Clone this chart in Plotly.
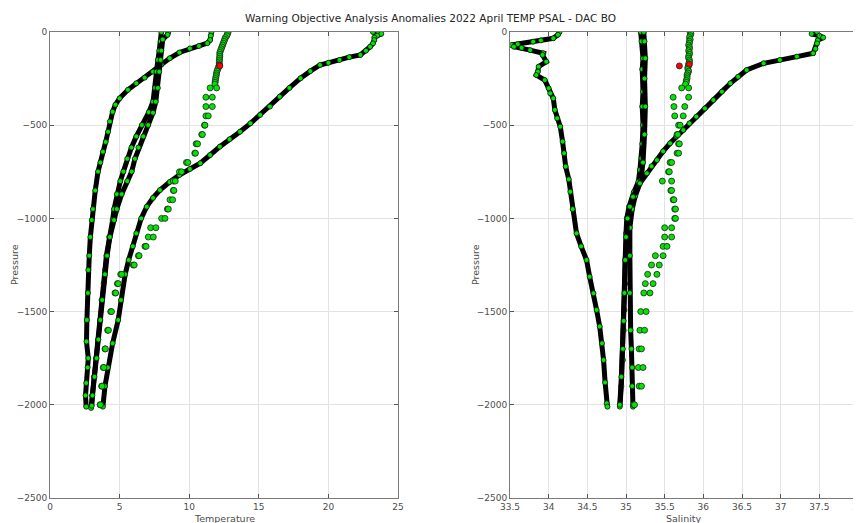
import plotly.graph_objects as go

# ---------------- DATA ----------------
title_text = "Warning Objective Analysis Anomalies 2022 April TEMP PSAL - DAC BO"
temp_ticks = [0, 5, 10, 15, 20, 25]
sal_ticks = [33.5, 34, 34.5, 35, 35.5, 36, 36.5, 37, 37.5, 38]
pres_ticks = [-2500, -2000, -1500, -1000, -500, 0]

# Dense temperature profiles
ta_p = [0, -50, -100, -150, -213, -300, -374, -430, -499, -560, -620, -680, -749, -800, -870, -950, -1009, -1100, -1200, -1277, -1350, -1438, -1545, -1650, -1750, -1850, -1950, -2017]
ta_t = [8.0, 7.95, 7.85, 7.75, 7.65, 7.55, 7.4, 7.1, 6.6, 6.2, 5.85, 5.55, 5.27, 5.05, 4.8, 4.6, 4.5, 4.25, 4.05, 3.95, 3.85, 3.7, 3.6, 3.45, 3.3, 3.15, 3.02, 2.95]

tb_p = [0, -15, -40, -100, -150, -213, -300, -374, -433, -499, -560, -620, -680, -749, -800, -870, -950, -1009, -1100, -1200, -1300, -1438, -1545, -1650, -1750, -1850, -1950, -2005]
tb_t = [8.5, 8.45, 8.1, 8.0, 7.95, 7.85, 7.75, 7.6, 7.4, 7.06, 6.7, 6.35, 6.1, 5.87, 5.55, 5.15, 4.8, 4.6, 4.3, 4.1, 3.95, 3.75, 3.62, 3.48, 3.35, 3.2, 3.05, 3.0]

tc_p = [0, -20, -43, -60, -75, -88, -110, -141, -175, -213, -245, -275, -310, -356, -390, -428, -480, -535, -590, -642, -700, -749, -850, -950, -1009, -1100, -1200, -1277, -1400, -1545, -1660, -1750, -1800, -1883, -1950, -2010]
tc_t = [11.6, 11.55, 11.5, 11.3, 10.7, 10.05, 9.3, 8.6, 8.0, 7.4, 6.8, 6.2, 5.6, 5.0, 4.7, 4.5, 4.3, 4.17, 4.0, 3.8, 3.62, 3.45, 3.25, 3.08, 3.0, 2.9, 2.82, 2.75, 2.72, 2.65, 2.62, 2.75, 2.7, 2.6, 2.55, 2.6]

td_p = [0, -5, -10, -20, -30, -43, -61, -79, -100, -123, -135, -150, -165, -177, -210, -248, -300, -347, -400, -445, -490, -535, -575, -615, -660, -704, -735, -767, -805, -848, -890, -937, -1000, -1080, -1150, -1223, -1300, -1438, -1545, -1670, -1800, -1900, -2010]
td_t = [23.2, 23.6, 23.8, 23.5, 23.3, 23.3, 23.2, 23.0, 22.7, 22.3, 21.5, 20.8, 20.0, 19.4, 18.7, 18.0, 17.2, 16.5, 15.8, 15.1, 14.4, 13.65, 12.9, 12.2, 11.5, 10.8, 10.05, 9.3, 8.6, 7.9, 7.4, 6.95, 6.55, 6.2, 5.95, 5.65, 5.4, 5.1, 4.9, 4.5, 4.15, 3.95, 3.8]

# Dense salinity profiles
sa_p = [0, -15, -34, -45, -52, -65, -70, -79, -85, -97, -114, -123, -159, -186, -213, -231, -258, -302, -329, -356, -418, -463, -508, -588, -650, -722, -790, -857, -950, -1080, -1150, -1223, -1313, -1402, -1491, -1580, -1670, -1760, -1880, -1992, -2010]
sa_s = [34.14, 34.12, 34.06, 33.9, 33.8, 33.6, 33.52, 33.55, 33.65, 33.76, 33.93, 33.92, 33.97, 33.87, 33.86, 33.84, 33.95, 34.0, 34.02, 34.06, 34.08, 34.11, 34.15, 34.18, 34.2, 34.22, 34.26, 34.28, 34.31, 34.36, 34.42, 34.49, 34.53, 34.58, 34.62, 34.66, 34.69, 34.71, 34.73, 34.75, 34.76]

sb1_p = [0, -50, -141, -200, -320, -400, -499, -600, -678, -740, -803, -860, -937, -1000, -1080, -1223, -1350, -1491, -1600, -1760, -1900, -2010]
sb1_s = [35.19, 35.2, 35.22, 35.21, 35.22, 35.21, 35.22, 35.21, 35.2, 35.18, 35.16, 35.1, 35.04, 35.01, 35.0, 34.99, 34.99, 34.98, 34.97, 34.96, 34.94, 34.92]

sb2_p = [0, -50, -141, -250, -400, -550, -700, -800, -880, -950, -1050, -1200, -1400, -1600, -1700, -1800, -1900, -2010]
sb2_s = [35.23, 35.24, 35.25, 35.24, 35.25, 35.24, 35.22, 35.19, 35.12, 35.08, 35.05, 35.05, 35.05, 35.06, 35.07, 35.08, 35.08, 35.09]

sc_p = [0, -10, -20, -30, -45, -61, -90, -114, -132, -150, -168, -204, -240, -275, -320, -365, -410, -454, -490, -526, -560, -597, -640, -687, -720, -758, -812, -884, -937, -1000, -1100, -1223, -1400, -1550, -1700, -1850, -2000]
sc_s = [37.47, 37.4, 37.5, 37.55, 37.48, 37.47, 37.45, 37.42, 37.21, 36.99, 36.78, 36.56, 36.45, 36.35, 36.24, 36.13, 36.02, 35.91, 35.82, 35.74, 35.65, 35.57, 35.48, 35.4, 35.33, 35.27, 35.18, 35.09, 35.05, 35.02, 35.0, 34.99, 34.98, 34.97, 34.96, 34.94, 34.92]

# Sparse (anomalous) profile: dense top part then two branches at standard levels
e_top_p = [0, -10, -20, -30, -40, -50, -60, -70, -80, -90, -100, -110, -120, -130, -140, -150, -160, -170, -180, -190, -200, -210, -220, -230, -240, -250, -260, -270, -280]
e_top_t = [12.8, 12.75, 12.7, 12.6, 12.55, 12.5, 12.45, 12.4, 12.35, 12.3, 12.25, 12.2, 12.2, 12.2, 12.18, 12.17, 12.16, 12.16, 12.15, 12.1, 12.05, 12.0, 11.97, 11.95, 11.92, 11.9, 11.88, 11.86, 11.85]
e_top_s = [35.83, 35.84, 35.83, 35.82, 35.83, 35.82, 35.82, 35.81, 35.82, 35.82, 35.81, 35.82, 35.82, 35.81, 35.81, 35.82, 35.82, 35.81, 35.81, 35.8, 35.8, 35.81, 35.8, 35.79, 35.79, 35.79, 35.78, 35.78, 35.77]

e_lev_p = [-300, -350, -400, -450, -500, -550, -600, -650, -700, -750, -800, -850, -900, -950, -1000, -1050, -1100, -1150, -1200, -1250, -1300, -1350, -1400, -1500, -1600, -1700, -1800, -1900, -2000]
e1_t = [11.5, 11.2, 11.2, 11.2, 11.1, 10.9, 10.5, 10.4, 9.8, 9.3, 8.86, 8.86, 8.62, 8.43, 8.02, 7.23, 7.06, 6.82, 6.35, 5.98, 5.08, 4.84, 4.67, 4.36, 4.14, 3.95, 3.83, 3.71, 3.6]
e2_t = [11.97, 11.66, 11.66, 11.37, 11.13, 10.95, 10.6, 10.45, 9.9, 9.45, 9.0, 8.9, 8.81, 8.5, 8.26, 7.61, 7.42, 6.9, 6.4, 6.05, 5.15, 4.9, 4.72, 4.42, 4.2, 3.98, 3.86, 3.74, 3.62]
e1_s = [35.72, 35.61, 35.62, 35.63, 35.68, 35.66, 35.68, 35.66, 35.57, 35.55, 35.47, 35.58, 35.61, 35.63, 35.63, 35.5, 35.5, 35.48, 35.38, 35.33, 35.28, 35.25, 35.23, 35.19, 35.18, 35.17, 35.16, 35.17, 35.1]
e2_s = [35.81, 35.81, 35.76, 35.74, 35.7, 35.67, 35.69, 35.68, 35.59, 35.56, 35.59, 35.59, 35.62, 35.64, 35.64, 35.59, 35.59, 35.53, 35.48, 35.43, 35.4, 35.35, 35.31, 35.26, 35.24, 35.2, 35.22, 35.2, 35.11]

# Flagged (red) points
red_t_p = [-177, -182]
red_t = [12.16, 12.2]
red_s_p = [-173, -182]
red_s = [35.82, 35.69]

# ---------------- FIGURE ----------------
fig = go.Figure()

GREEN = "#00e600"
dense_marker = dict(size=5, color=GREEN, line=dict(color="#111", width=0.8))
dense_line = dict(color="black", width=5)


def dense(x, y, xa, ya):
    fig.add_trace(go.Scatter(x=x, y=y, mode="lines+markers", line=dense_line,
                             marker=dense_marker, xaxis=xa, yaxis=ya,
                             showlegend=False, hoverinfo="skip"))


def sparse(x, y, xa, ya, color=GREEN):
    fig.add_trace(go.Scatter(x=x, y=y, mode="markers",
                             marker=dict(size=6, color=color, line=dict(color="#222", width=0.8)),
                             xaxis=xa, yaxis=ya, showlegend=False, hoverinfo="skip"))


for x, y in [(tc_t, tc_p), (ta_t, ta_p), (tb_t, tb_p), (td_t, td_p)]:
    dense(x, y, "x", "y")
sparse(e_top_t, e_top_p, "x", "y")
sparse(e1_t, e_lev_p, "x", "y")
sparse(e2_t, e_lev_p, "x", "y")
sparse(red_t, red_t_p, "x", "y", color="#ff0000")

for x, y in [(sa_s, sa_p), (sb1_s, sb1_p), (sb2_s, sb2_p), (sc_s, sc_p)]:
    dense(x, y, "x2", "y2")
sparse(e_top_s, e_top_p, "x2", "y2")
sparse(e1_s, e_lev_p, "x2", "y2")
sparse(e2_s, e_lev_p, "x2", "y2")
sparse(red_s, red_s_p, "x2", "y2", color="#ff0000")

W, H = 861, 523
OFF = 8  # page body margin offset in the browser


def px(x):
    return (x - OFF) / W


def py(y):
    return 1 - (y - OFF) / H


ydom = [py(498), py(32)]
tickfont = dict(family="DejaVu Sans", size=9, color="#4d4d4d")
axis_common = dict(showgrid=True, gridcolor="#e3e3e3", gridwidth=1, zeroline=False,
                   showline=True, linecolor="#7a7a7a", linewidth=1, mirror="ticks",
                   ticks="inside", ticklen=4, tickcolor="#555", tickfont=tickfont,
                   automargin=False)
lab_font = dict(size=9.5, color="#4d4d4d", family="DejaVu Sans")

fig.update_layout(
    template="none",
    width=W, height=H,
    margin=dict(l=0, r=0, t=0, b=0, pad=0),
    paper_bgcolor="white", plot_bgcolor="white",
    font=dict(family="DejaVu Sans", color="#333"),
    xaxis=dict(domain=[px(50), px(398)], range=[0, 25], tickvals=temp_ticks, anchor="y", **axis_common),
    yaxis=dict(domain=ydom, range=[-2500, 0], tickvals=pres_ticks, anchor="x", **axis_common),
    xaxis2=dict(domain=[px(510), px(858)], range=[33.5, 38], tickvals=sal_ticks,
                ticktext=[("%g" % v) for v in sal_ticks], anchor="y2", **axis_common),
    yaxis2=dict(domain=ydom, range=[-2500, 0], tickvals=pres_ticks, anchor="x2", **axis_common),
    annotations=[
        dict(text=title_text, x=px(430), y=py(18), xref="paper", yref="paper",
             xanchor="center", yanchor="middle", showarrow=False,
             font=dict(size=10.5, color="#262626", family="DejaVu Sans")),
        dict(text="Temperature", x=px(224), y=py(518), xref="paper", yref="paper",
             xanchor="center", yanchor="middle", showarrow=False, font=lab_font),
        dict(text="Salinity", x=px(684), y=py(518), xref="paper", yref="paper",
             xanchor="center", yanchor="middle", showarrow=False, font=lab_font),
        dict(text="Pressure", x=px(14), y=py(265), xref="paper", yref="paper",
             xanchor="center", yanchor="middle", showarrow=False, textangle=-90, font=lab_font),
        dict(text="Pressure", x=px(475), y=py(265), xref="paper", yref="paper",
             xanchor="center", yanchor="middle", showarrow=False, textangle=-90, font=lab_font),
    ],
)

fig.write_html("out.html")
